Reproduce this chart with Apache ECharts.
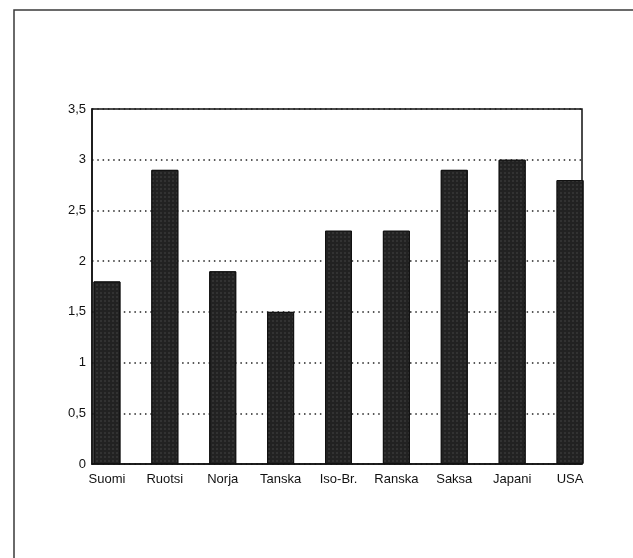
<!DOCTYPE html>
<html>
<head>
<meta charset="utf-8">
<script src="https://cdn.jsdelivr.net/npm/echarts@6/dist/echarts.min.js"></script>
<style>
html,body{margin:0;padding:0;background:#fff;}
#c{width:633px;height:558px;}
</style>
</head>
<body>
<div id="c"></div>
<script>
var categories = ['Suomi', 'Ruotsi', 'Norja', 'Tanska', 'Iso-Br.', 'Ranska', 'Saksa', 'Japani', 'USA'];
var values = [1.8, 2.9, 1.9, 1.5, 2.3, 2.3, 2.9, 3.0, 2.8];
var yMin = 0, yMax = 3.5, yStep = 0.5;

var chart = echarts.init(document.getElementById('c'), null, {renderer: 'canvas'});
var font = 'Liberation Sans, Arial, sans-serif';
chart.setOption({
  animation: false,
  backgroundColor: '#fff',
  graphic: [{
    type: 'rect',
    shape: {x: 14, y: 10, width: 700, height: 700},
    style: {fill: 'none', stroke: '#3a3a3a', lineWidth: 1.5},
    silent: true
  }],
  grid: [
    {left: 92, right: 51, top: 109, bottom: 94, show: true, borderColor: '#111', borderWidth: 1.5, backgroundColor: 'transparent'},
    {left: 78, right: 34, top: 109, bottom: 94}
  ],
  xAxis: [
    {gridIndex: 0, type: 'category', data: categories, axisLabel: {show: false}, axisTick: {show: false},
     axisLine: {lineStyle: {color: '#111', width: 1.5}}, splitLine: {show: false}},
    {gridIndex: 1, type: 'category', data: categories, axisLine: {show: false}, axisTick: {show: false},
     axisLabel: {color: '#111', fontFamily: font, fontSize: 13, margin: 9, interval: 0, hideOverlap: false}}
  ],
  yAxis: [
    {gridIndex: 0, type: 'value', min: yMin, max: yMax, interval: yStep,
     axisLine: {show: true, lineStyle: {color: '#111', width: 1.5}},
     axisTick: {show: false},
     axisLabel: {color: '#111', fontFamily: font, fontSize: 13, margin: 6,
       formatter: function (v) { return String(v).replace('.', ','); }},
     splitLine: {show: true, lineStyle: {color: '#222', width: 1.5, type: [1.5, 3.8]}}},
    {gridIndex: 1, type: 'value', min: yMin, max: yMax, interval: yStep, show: false, splitLine: {show: false}}
  ],
  series: [{
    type: 'bar',
    xAxisIndex: 1,
    yAxisIndex: 1,
    data: values,
    barWidth: 27,
    itemStyle: {
      color: '#222',
      borderColor: '#111',
      borderWidth: 1,
      decal: {symbol: 'rect', symbolSize: 0.5, color: 'rgba(255,255,255,0.3)', dashArrayX: [2, 2], dashArrayY: [2, 2], rotation: 0}
    }
  }]
});
</script>
</body>
</html>
